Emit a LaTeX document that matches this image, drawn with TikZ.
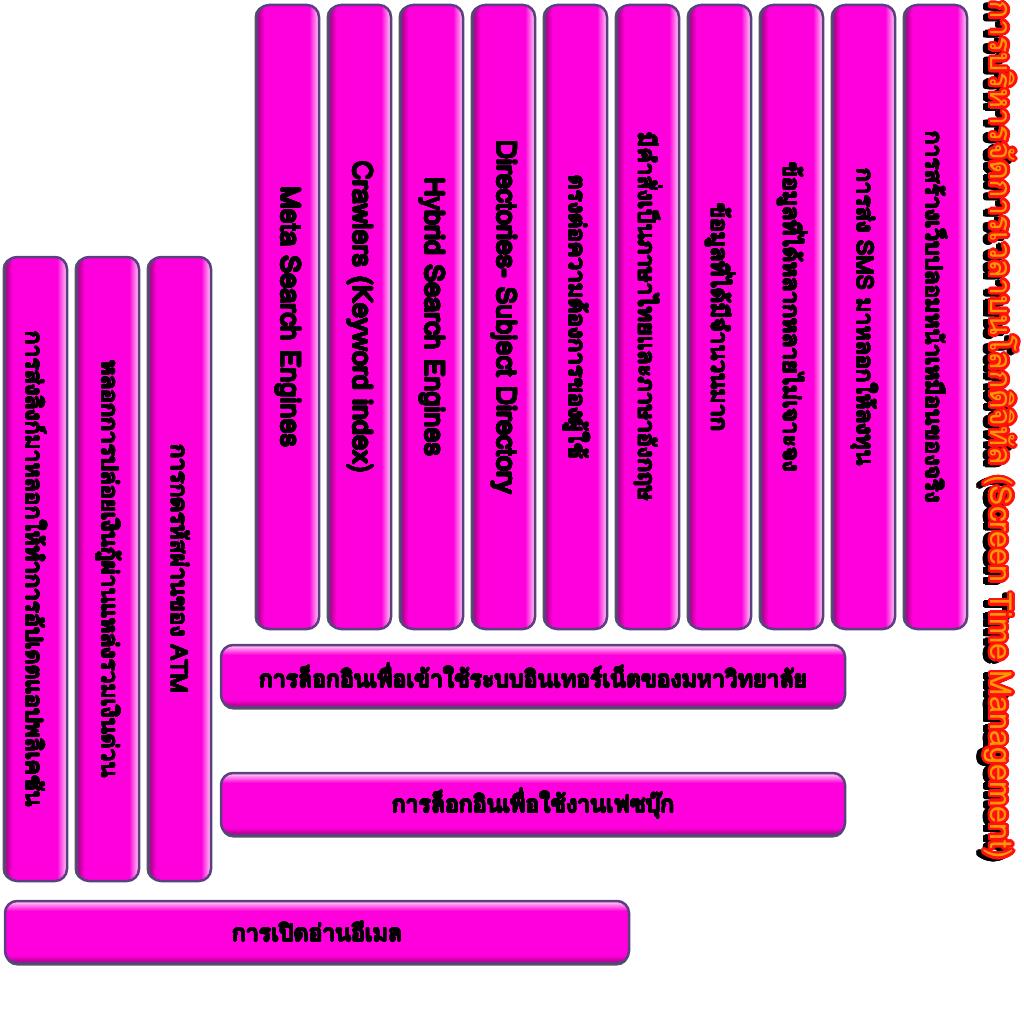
\documentclass[tikz,border=0pt]{standalone}
\usepackage{fontspec}
\usepackage{graphicx}
\usepackage[copies]{contour}
\newfontfamily\thaifont[Script=Thai]{Loma}
\usetikzlibrary{shadows}

\definecolor{pkdark}{HTML}{A8007E}
\definecolor{pkmain}{HTML}{FF00DC}
\definecolor{pklight}{HTML}{FFD4F4}
\definecolor{barline}{HTML}{5A4080}
\definecolor{titlefill}{HTML}{FF9800}
\definecolor{titleline}{HTML}{FF1010}

\pgfdeclarehorizontalshading{vshade}{100bp}{color(0bp)=(pkdark); color(25bp)=(pkdark); color(31bp)=(pkmain); color(67bp)=(pkmain); color(75bp)=(pklight); color(100bp)=(pklight)}
\pgfdeclareverticalshading{hshade}{100bp}{color(0bp)=(pkdark); color(25bp)=(pkdark); color(31bp)=(pkmain); color(67bp)=(pkmain); color(75bp)=(pklight); color(100bp)=(pklight)}

\contournumber{24}
\newcommand\heavy[1]{{\contourlength{0.75pt}\contour{black}{#1}}}
\newcommand\upbar[1]{\rotatebox{-90}{\heavy{#1}}}

\begin{document}
\begin{tikzpicture}[x=1pt,y=-1pt,
  bar/.style={draw=barline,line width=2.5pt,rounded corners=12pt,inner sep=0pt,text=black,
    font=\thaifont\fontsize{23}{23}\selectfont},
  latin/.style={font=\thaifont\fontsize{27}{27}\selectfont},
  vbar/.style={bar,shading=vshade,minimum width=62pt,minimum height=624pt,
    drop shadow={shadow xshift=-2.5pt,shadow yshift=0pt,fill=black!65,opacity=1}},
  hbar/.style={bar,shading=hshade,minimum width=624pt,minimum height=62pt,
    drop shadow={shadow xshift=0pt,shadow yshift=-2.5pt,fill=black!65,opacity=1}},
  titletext/.style={inner sep=0pt,font=\thaifont\fontsize{30.5}{30.5}\selectfont}]
\useasboundingbox[fill=white] (0,0) rectangle (1024,1024);

% search engines, upright bars
\foreach \n/\lbl [count=\i from 0] in {
  meta/{Meta Search Engines},
  crawl/{Crawlers (Keyword index)},
  hybrid/{Hybrid Search Engines},
  direc/{Directories- Subject Directory}}
  \node[vbar,latin] (\n) at (288+72*\i,317) {\upbar{\lbl}};

\foreach \n/\lbl [count=\i from 4] in {
  match/{ตรงต่อความต้องการของผู้ใช้},
  lang/{มีคำสั่งเป็นภาษาไทยและภาษาอังกฤษ},
  many/{ข้อมูลที่ได้มีจำนวนมาก},
  vague/{ข้อมูลที่ได้หลากหลายไม่เจาะจง},
  sms/{การส่ง SMS มาหลอกให้ลงทุน},
  fakeweb/{การสร้างเว็บปลอมหน้าเหมือนของจริง}}
  \node[vbar] (\n) at (288+72*\i,317) {\upbar{\lbl}};

% phishing, left bars
\node[vbar] (link) at (36,569) {\upbar{การส่งลิงก์มาหลอกให้ทำการอัปเดตแอปพลิเคชัน}};
\node[vbar] (loan) at (108,569) {\upbar{หลอกการปล่อยเงินกู้ผ่านแหล่งรวมเงินด่วน}};
\node[vbar] (atm) at (180,569) {\upbar{การกดรหัสผ่านของ ATM}};

% login bars
\node[hbar] (unilogin) at (533,676) {\heavy{การล็อกอินเพื่อเข้าใช้ระบบอินเทอร์เน็ตของมหาวิทยาลัย}};
\node[hbar] (fblogin) at (533,804) {\heavy{การล็อกอินเพื่อใช้งานเฟซบุ๊ก}};
\node[hbar] (email) at (317,932) {\heavy{การเปิดอ่านอีเมล}};

% title
\contourlength{2.5pt}
\node[titletext,text=black] (titleshadow) at (995,432)
  {\rotatebox{-90}{\contour{black}{การบริหารจัดการเวลาบนโลกดิจิทัล (Screen Time Management)}}};
\node[titletext,text=titlefill] (title) at (1000,430)
  {\rotatebox{-90}{\contour{titleline}{การบริหารจัดการเวลาบนโลกดิจิทัล (Screen Time Management)}}};
\end{tikzpicture}
\end{document}
